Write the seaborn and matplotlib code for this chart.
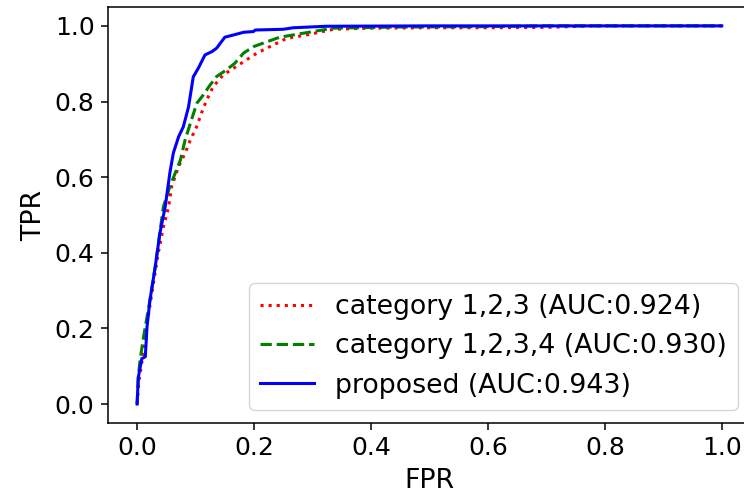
import matplotlib
matplotlib.use("Agg")
import matplotlib.pyplot as plt
import seaborn as sns
import pandas as pd

# ROC points
fpr_c123 = [0.0, 0.003, 0.010, 0.017, 0.028, 0.036, 0.045, 0.054, 0.059, 0.071, 0.082, 0.091,
            0.102, 0.110, 0.119, 0.130, 0.147, 0.165, 0.182, 0.205, 0.227, 0.256, 0.290, 0.336,
            0.400, 0.500, 0.600, 0.700, 0.780, 0.850, 1.0]
tpr_c123 = [0.0, 0.060, 0.130, 0.213, 0.320, 0.398, 0.469, 0.522, 0.575, 0.628, 0.663, 0.698,
            0.734, 0.769, 0.804, 0.839, 0.870, 0.888, 0.905, 0.928, 0.945, 0.967, 0.976, 0.991,
            0.994, 0.995, 0.995, 0.996, 1.0, 1.0, 1.0]

fpr_c1234 = [0.0, 0.002, 0.005, 0.011, 0.022, 0.031, 0.045, 0.056, 0.065, 0.074, 0.082, 0.091,
             0.102, 0.113, 0.125, 0.136, 0.153, 0.167, 0.182, 0.199, 0.222, 0.244, 0.267, 0.301,
             0.336, 0.450, 0.600, 0.700, 0.850, 1.0]
tpr_c1234 = [0.0, 0.070, 0.116, 0.178, 0.275, 0.363, 0.522, 0.575, 0.610, 0.645, 0.698, 0.742,
             0.795, 0.817, 0.844, 0.866, 0.884, 0.901, 0.928, 0.945, 0.958, 0.970, 0.976, 0.985,
             0.994, 0.997, 0.998, 1.0, 1.0, 1.0]

fpr_prop = [0.0, 0.002, 0.008, 0.014, 0.017, 0.022, 0.031, 0.039, 0.048, 0.056, 0.062, 0.071,
            0.079, 0.088, 0.096, 0.105, 0.116, 0.128, 0.136, 0.150, 0.165, 0.182, 0.199, 0.202,
            0.250, 0.267, 0.324, 0.500, 0.750, 1.0]
tpr_prop = [0.0, 0.070, 0.120, 0.125, 0.205, 0.275, 0.363, 0.452, 0.521, 0.611, 0.664, 0.707,
            0.733, 0.786, 0.865, 0.889, 0.923, 0.932, 0.941, 0.970, 0.976, 0.983, 0.985, 0.989,
            0.991, 0.995, 0.999, 1.0, 1.0, 1.0]

labels = ["category 1,2,3 (AUC:0.924)", "category 1,2,3,4 (AUC:0.930)", "proposed (AUC:0.943)"]

plt.rcParams['font.family'] = ['DejaVu Sans']
plt.rcParams['font.size'] = 18
plt.rcParams['axes.linewidth'] = 1.1

fig = plt.figure(figsize=(7.44, 4.97), dpi=100)
# axes right edge lies just beyond the image edge, as in the reference crop
ax = fig.add_axes([0.145, 0.149, 1.0094 - 0.145, 0.837])

series = [(fpr_c123, tpr_c123, "red", ":"),
          (fpr_c1234, tpr_c1234, "green", "--"),
          (fpr_prop, tpr_prop, "blue", "-")]
for (x, y, c, ls), lab in zip(series, labels):
    df = pd.DataFrame({"FPR": x, "TPR": y})
    sns.lineplot(data=df, x="FPR", y="TPR", ax=ax, color=c, linestyle=ls,
                 linewidth=2.2, sort=False, estimator=None, label=lab)

ax.set_xlim(-0.05, 1.05)
ax.set_ylim(-0.05, 1.05)
ax.set_xticks([0.0, 0.2, 0.4, 0.6, 0.8, 1.0])
ax.set_yticks([0.0, 0.2, 0.4, 0.6, 0.8, 1.0])
ax.set_xlabel("FPR", fontsize=19.3, labelpad=5.5)
ax.set_ylabel("TPR", fontsize=19.3, labelpad=5.5)
ax.tick_params(labelsize=18, length=4.8, width=1.1, pad=4.8)
ax.legend(loc="lower right", fontsize=19.3, handlelength=2.0)

fig.savefig("out.png", dpi=100)
